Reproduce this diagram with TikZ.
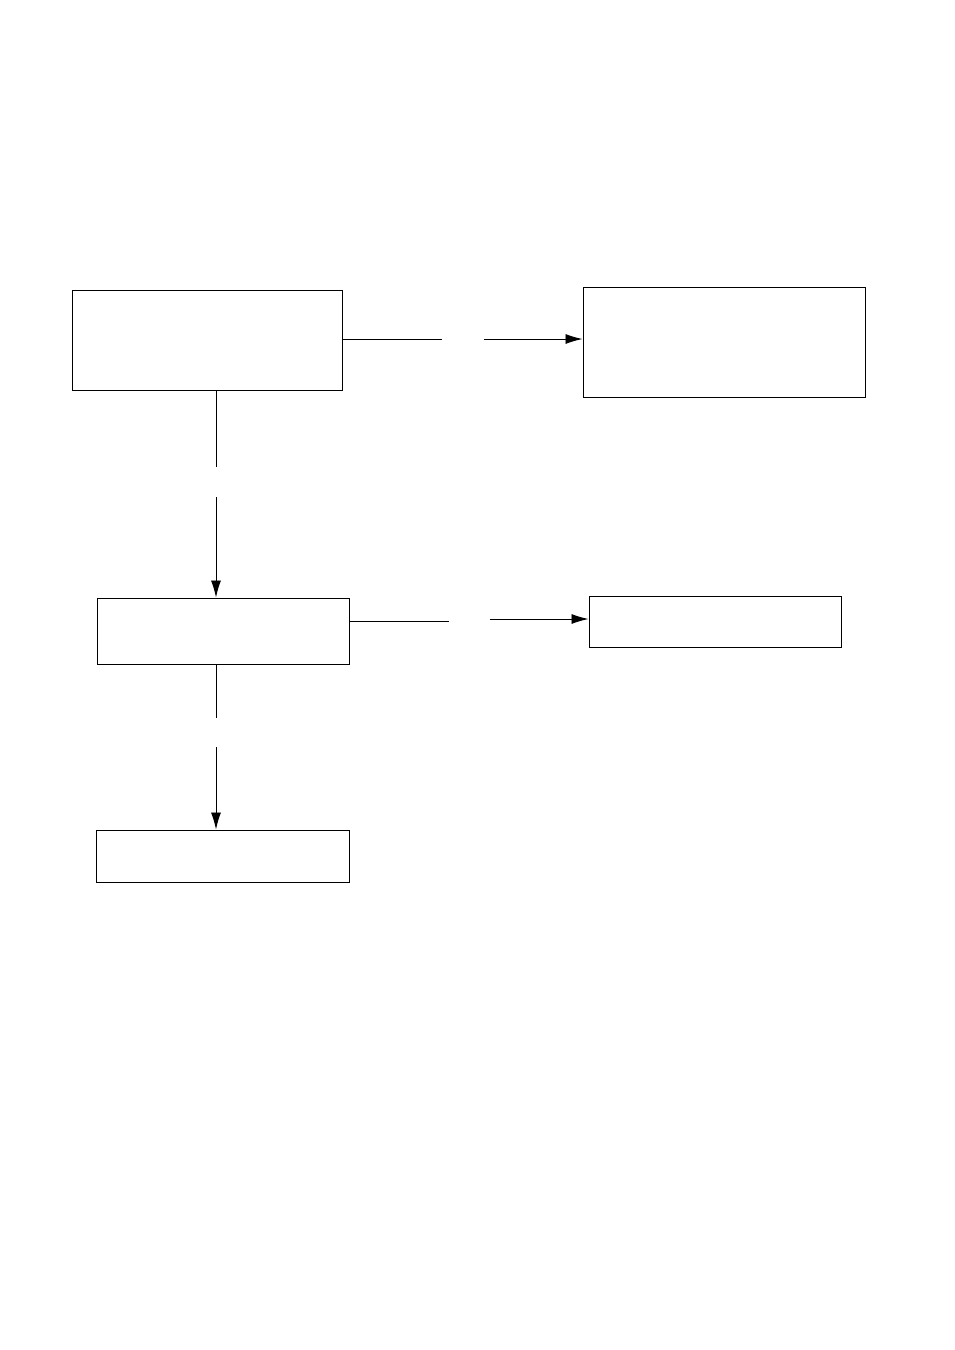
\documentclass[tikz,border=0pt]{standalone}
\usetikzlibrary{arrows.meta}
\begin{document}
\begin{tikzpicture}[x=1pt,y=-1pt,
  box/.style={draw=black,line width=1pt,inner sep=0pt,fill=white},
  conn/.style={draw=black,line width=0.9pt},
  arr/.style={conn,-{Latex[length=17pt,width=10pt]}}]
\useasboundingbox[fill=white] (0,0) rectangle (954,1350);
% boxes
\node[box,minimum width=270pt,minimum height=100pt] (A) at (207,340) {};
\node[box,minimum width=282pt,minimum height=110pt] (B) at (724,342) {};
\node[box,minimum width=252pt,minimum height=66pt] (C) at (223,631) {};
\node[box,minimum width=252pt,minimum height=51pt] (D) at (715,621.5) {};
\node[box,minimum width=253pt,minimum height=52pt] (E) at (222.5,856) {};
% gap ends
\coordinate (ab1) at (442,339);
\coordinate (ab2) at (484,339);
\coordinate (ac1) at (216,467);
\coordinate (ac2) at (216,497);
\coordinate (cd1) at (449,621);
\coordinate (cd2) at (490,619);
\coordinate (ce1) at (216,718);
\coordinate (ce2) at (216,747);
% connectors
\draw[conn] (A.east |- ab1) -- (ab1);
\draw[arr] (ab2) -- (B.west |- ab2);
\draw[conn] (A.south -| ac1) -- (ac1);
\draw[arr] (ac2) -- (C.north -| ac2);
\draw[conn] (C.east |- cd1) -- (cd1);
\draw[arr] (cd2) -- (D.west |- cd2);
\draw[conn] (C.south -| ce1) -- (ce1);
\draw[arr] (ce2) -- (E.north -| ce2);
\end{tikzpicture}
\end{document}
